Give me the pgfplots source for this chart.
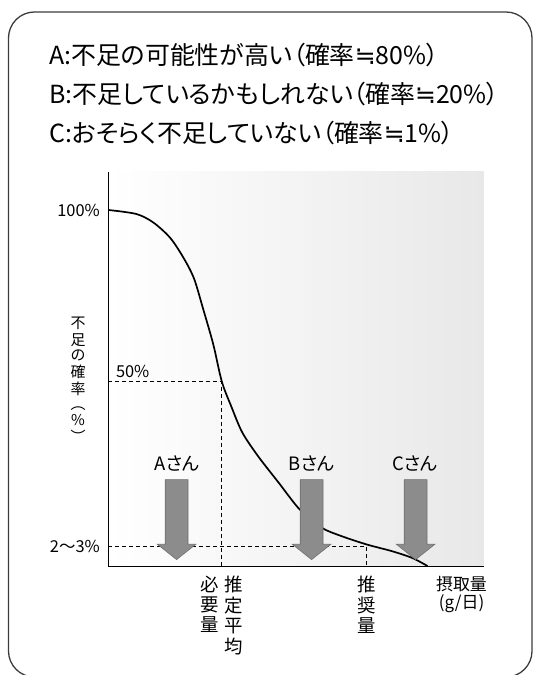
\documentclass[border=0pt]{standalone}
\usepackage{fontspec}
\usepackage{pgfplots}
\pgfplotsset{compat=1.18}
\newfontfamily\jp[RawFeature=+palt]{Noto Sans CJK JP}
\newfontfamily\dv{DejaVu Sans}
\definecolor{arrowgray}{RGB}{140,140,140}
\definecolor{arrowedge}{RGB}{110,110,110}
\definecolor{framegray}{RGB}{60,60,60}
\begin{document}
\begin{tikzpicture}[x=1bp,y=1bp]
\useasboundingbox (0,0) rectangle (534,675);
\draw[framegray, line width=1.3bp, rounded corners=26bp] (8.5,-2) rectangle (532,663);
\node[anchor=west, inner sep=0, font=\jp\fontsize{25}{25}\selectfont] at (49,620) {A:不足の可能性が高い（確率{\dv ≒}80\%）};
\node[anchor=west, inner sep=0, font=\jp\fontsize{25}{25}\selectfont] at (49,580.5) {B:不足しているかもしれない（確率{\dv ≒}20\%）};
\node[anchor=west, inner sep=0, font=\jp\fontsize{25}{25}\selectfont] at (49,542) {C:おそらく不足していない（確率{\dv ≒}1\%）};
\begin{axis}[
  at={(108.3bp,108.5bp)}, anchor=south west,
  scale only axis, width=375.3bp, height=394.5bp,
  xmin=0, xmax=375.3, ymin=0, ymax=394.5,
  axis x line=bottom, axis y line=left,
  axis line style={-, line width=1.3bp, black},
  major tick length=0,
  clip=false,
  axis background/.style={shade, left color=white, right color=black!9},
  ytick={19.8,356.5},
  yticklabels={2〜3\%,100\%},
  yticklabel style={font=\jp\fontsize{16.5}{16.5}\selectfont, xshift=-5bp},
  xtick={113.5,258.5},
  xticklabels={
    {\begin{tabular}[t]{@{}c@{}}必\\要\\量\end{tabular}\hspace{6bp}\begin{tabular}[t]{@{}c@{}}推\\定\\平\\均\end{tabular}},
    {\begin{tabular}[t]{@{}c@{}}推\\奨\\量\end{tabular}}},
  xticklabel style={anchor=north, inner sep=0, yshift=-9bp, font=\jp\fontsize{18.5}{18.5}\selectfont},
  ylabel={\begin{tabular}{@{}c@{}}不\\足\\の\\確\\率\\︵\\\%\\︶\end{tabular}},
  ylabel style={at={(axis description cs:-0.0807,0.4677)}, rotate=-90, anchor=center, font=\jp\fontsize{15}{15}\selectfont},
]
% dashed guide lines
\addplot[black, line width=0.8bp, dash pattern=on 4bp off 3bp] coordinates {(0,185) (113.5,185) (113.5,0)};
\addplot[black, line width=0.8bp, dash pattern=on 4bp off 3bp] coordinates {(0,19.8) (258.5,19.8) (258.5,0)};
% curve
\addplot[black, line width=1.7bp, smooth] coordinates {
(0,356.5) (28,352.5) (45,344) (62,328.5) (75.6,308) (85.8,287.7) (95,257)
(105,222) (113.5,185) (123,160) (134,134) (150,110) (171,83)
(191.4,57) (213,39) (232.3,30.7) (258.5,22) (283.4,15.4) (303.8,8.6) (319.2,0.5)};
% arrows
\addplot[fill=arrowgray, draw=arrowedge, line width=0.6bp] coordinates {
(56.9,86.9) (56.9,22.2) (49.1,22.2) (68.3,6.9) (87.5,22.2) (79.7,22.2) (79.7,86.9) (56.9,86.9)};
\addplot[fill=arrowgray, draw=arrowedge, line width=0.6bp] coordinates {
(191.9,86.9) (191.9,22.2) (184.1,22.2) (203.3,6.9) (222.5,22.2) (214.7,22.2) (214.7,86.9) (191.9,86.9)};
\addplot[fill=arrowgray, draw=arrowedge, line width=0.6bp] coordinates {
(295.9,86.9) (295.9,22.2) (288.1,22.2) (307.3,6.9) (326.5,22.2) (318.7,22.2) (318.7,86.9) (295.9,86.9)};
% annotations
\node[font=\jp\fontsize{18.5}{18.5}\selectfont] at (axis cs:68.7,102.5) {Aさん};
\node[font=\jp\fontsize{18.5}{18.5}\selectfont] at (axis cs:203.3,102.5) {Bさん};
\node[font=\jp\fontsize{18.5}{18.5}\selectfont] at (axis cs:306.6,102.5) {Cさん};
\node[anchor=west, inner sep=0, font=\jp\fontsize{16.5}{16.5}\selectfont] at (axis cs:7.5,194.7) {50\%};
\node[align=center, font=\jp\fontsize{17}{19}\selectfont] at (axis cs:353.2,-28) {摂取量\\(g/日)};
\end{axis}
\end{tikzpicture}
\end{document}
